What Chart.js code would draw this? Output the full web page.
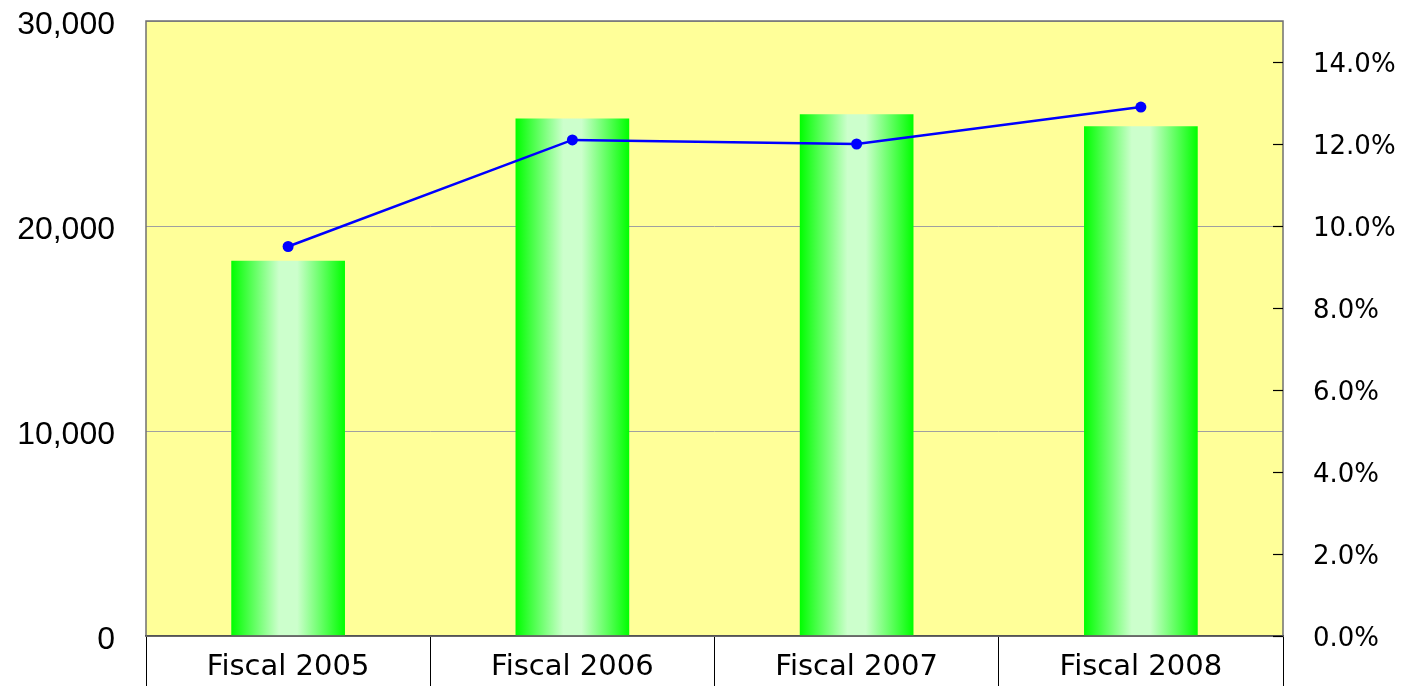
<!DOCTYPE html>
<html>
<head>
<meta charset="utf-8">
<script src="https://cdn.jsdelivr.net/npm/chart.js@4.4.0/dist/chart.umd.min.js"></script>
<style>
  html, body { margin: 0; padding: 0; background: #fff; }
  #wrap { width: 1402px; height: 686px; }
</style>
</head>
<body>
<div id="wrap"><canvas id="myChart"></canvas></div>
<script>
const categories = ['Fiscal 2005', 'Fiscal 2006', 'Fiscal 2007', 'Fiscal 2008'];
const barValues = [18300, 25250, 25450, 24870];
const lineValues = [9.5, 12.1, 12.0, 12.9];
const leftTicks = [0, 10000, 20000, 30000];
const rightTicks = [0, 2, 4, 6, 8, 10, 12, 14];

const canvas = document.getElementById('myChart');
const ctx = canvas.getContext('2d');

// yellow plot background + grey frame + inward ticks on right axis
const plotDecor = {
    id: 'plotDecor',
    beforeDraw(chart) {
        const a = chart.chartArea;
        const c = chart.ctx;
        c.save();
        c.fillStyle = '#ffff99';
        c.fillRect(a.left, a.top, a.right - a.left, a.bottom - a.top);
        c.restore();
    },
    afterDatasetsDraw(chart) {
        const a = chart.chartArea;
        const c = chart.ctx;
        const y1 = chart.scales.y1;
        c.save();
        c.strokeStyle = '#707070';
        c.lineWidth = 1.5;
        c.strokeRect(a.left, a.top, a.right - a.left, a.bottom - a.top);
        c.strokeStyle = '#000';
        c.lineWidth = 1.2;
        rightTicks.forEach(v => {
            const py = Math.round(y1.getPixelForValue(v)) + 0.5;
            c.beginPath();
            c.moveTo(a.right - 10, py);
            c.lineTo(a.right, py);
            c.stroke();
        });
        c.restore();
    }
};

function barGradient(context) {
    const chart = context.chart;
    if (!chart.chartArea) return '#00ff00';
    const xs = chart.scales.x;
    const cx = xs.getPixelForValue(context.dataIndex);
    const w = (xs.right - xs.left) / categories.length * 0.4;
    const g = chart.ctx.createLinearGradient(cx - w / 2, 0, cx + w / 2, 0);
    g.addColorStop(0, '#00ff00');
    g.addColorStop(0.42, '#ccffcc');
    g.addColorStop(0.58, '#ccffcc');
    g.addColorStop(1, '#00ff00');
    return g;
}

const myChart = new Chart(ctx, {
    data: {
        labels: categories,
        datasets: [
            {
                type: 'line',
                data: lineValues,
                yAxisID: 'y1',
                borderColor: '#0000ff',
                backgroundColor: '#0000ff',
                borderWidth: 2.5,
                pointRadius: 5.5,
                pointBackgroundColor: '#0000ff',
                pointBorderWidth: 0,
                tension: 0,
                order: 0
            },
            {
                type: 'bar',
                data: barValues,
                yAxisID: 'y',
                backgroundColor: barGradient,
                borderWidth: 0,
                barPercentage: 0.4,
                categoryPercentage: 1,
                order: 1
            }
        ]
    },
    options: {
        responsive: true,
        maintainAspectRatio: false,
        animation: false,
        devicePixelRatio: 1,
        layout: { padding: { top: 21, left: 0, right: 0, bottom: 0 } },
        plugins: {
            legend: { display: false },
            tooltip: { enabled: false }
        },
        scales: {
            x: {
                offset: true,
                grid: {
                    offset: true,
                    drawOnChartArea: false,
                    drawTicks: true,
                    tickLength: 50,
                    color: '#000',
                    lineWidth: 1
                },
                border: { display: true, color: '#000', width: 1.5 },
                ticks: {
                    color: '#000',
                    padding: -36,
                    font: { family: '"DejaVu Sans"', size: 29 }
                },
                afterFit(scale) {
                    scale.height = 50;
                    scale.paddingLeft = 0;
                    scale.paddingRight = 0;
                }
            },
            y: {
                position: 'left',
                min: 0,
                max: 30000,
                afterBuildTicks(scale) { scale.ticks = leftTicks.map(v => ({ value: v })); },
                grid: { color: '#a0a0a0', lineWidth: 1, drawTicks: false },
                border: { display: false },
                ticks: {
                    color: '#000',
                    padding: 31,
                    labelOffset: 4,
                    font: { family: '"Liberation Sans", Arial', size: 32 },
                    callback: v => v.toLocaleString('en-US')
                },
                afterFit(scale) {
                    scale.width = 146;
                    scale.paddingTop = 0;
                    scale.paddingBottom = 0;
                }
            },
            y1: {
                position: 'right',
                min: 0,
                max: 15,
                afterBuildTicks(scale) { scale.ticks = rightTicks.map(v => ({ value: v })); },
                grid: { drawOnChartArea: false, drawTicks: false },
                border: { display: false },
                ticks: {
                    color: '#000',
                    padding: 30,
                    labelOffset: 3,
                    font: { family: '"DejaVu Sans"', size: 26 },
                    callback: v => v.toFixed(1) + '%'
                },
                afterFit(scale) {
                    scale.width = 119;
                    scale.paddingTop = 0;
                    scale.paddingBottom = 0;
                }
            }
        }
    },
    plugins: [plotDecor]
});
</script>
</body>
</html>
